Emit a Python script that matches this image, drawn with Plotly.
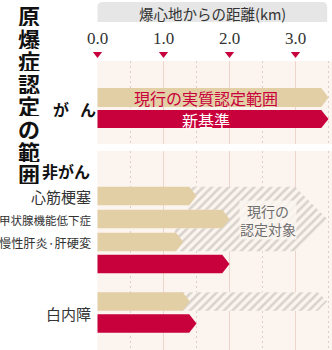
import plotly.graph_objects as go

# ---------------- data ----------------
title_chars = list("原爆症認定の範囲")
axis_title = "爆心地からの距離(km)"
tick_vals = [0.0, 1.0, 2.0, 3.0]
tick_labels = ["0.0", "1.0", "2.0", "3.0"]

cancer_current = 3.5      # 現行の実質認定範囲
cancer_new = 3.5          # 新基準

noncancer_cats = ["心筋梗塞", "甲状腺機能低下症", "慢性肝炎·肝硬変"]
noncancer_current = [1.5, 2.0, 1.3]
noncancer_new = 2.0       # shared 新基準 bar for the three diseases
noncancer_target = 3.48   # 現行の認定対象 (hatched)

cataract_cat = "白内障"
cataract_current = 1.4
cataract_new = 1.5
cataract_target = 3.48

# ---------------- layout constants ----------------
W, H = 332, 350
X0PX, PXKM = 97.5, 66.0
XMIN, XMAX = -X0PX / PXKM, (W - X0PX) / PXKM
TIP = 0.11

BEIGE = "#e3cfa6"
RED = "#c8003c"
PEACH = "#fcf4ee"
JP = "Noto Sans CJK JP"

fig = go.Figure()
shapes = []
ann = []

def px(xp):
    return xp / W

# background panels
for (y0, y1) in [(61, 144), (151, 350)]:
    shapes.append(dict(type="rect", xref="x", yref="y", x0=0, x1=XMAX, y0=y0, y1=y1,
                       fillcolor=PEACH, line=dict(width=0), layer="below"))
    for g in [1, 2, 3]:
        shapes.append(dict(type="line", xref="x", yref="y", x0=g, x1=g, y0=y0, y1=y1,
                           line=dict(color="#ead6cc", width=1), layer="below"))
    for g in [0.5, 1.5, 2.5, 3.5]:
        shapes.append(dict(type="line", xref="x", yref="y", x0=g, x1=g, y0=y0, y1=y1,
                           line=dict(color="#dccfc8", width=1, dash="2px,3px"), layer="below"))

# header rounded rect
hx0, hx1, hy0, hy1 = 0.0, 3.48, 2, 22
rx, ry = 5 / PXKM, 5
path = (f"M {hx0+rx},{hy0} L {hx1-rx},{hy0} Q {hx1},{hy0} {hx1},{hy0+ry} "
        f"L {hx1},{hy1} L {hx0},{hy1} L {hx0},{hy0+ry} Q {hx0},{hy0} {hx0+rx},{hy0} Z")
shapes.append(dict(type="path", xref="x", yref="y", path=path,
                   fillcolor="#e6e6e6", line=dict(width=0), layer="below"))
ann.append(dict(xref="x", yref="y", x=(hx0 + hx1) / 2, y=12.5, text=axis_title,
                showarrow=False, height=20,
                font=dict(family=JP, size=14.5, color="#333")))

# ticks
for v, lab in zip(tick_vals, tick_labels):
    ann.append(dict(xref="x", yref="y", x=v, y=38, text=lab, showarrow=False,
                    font=dict(family="Liberation Serif, DejaVu Serif, serif", size=17, color="#333")))
fig.add_trace(go.Scatter(x=tick_vals, y=[54] * len(tick_vals), mode="markers",
                         marker=dict(symbol="triangle-down", size=8, color=RED),
                         hoverinfo="skip", showlegend=False))

def arrow(tip, yc, h, color):
    t, b = yc - h / 2, yc + h / 2
    xs = [0, tip - TIP, tip, tip - TIP, 0, 0]
    ys = [t, t, yc, b, b, t]
    fig.add_trace(go.Scatter(x=xs, y=ys, mode="lines", fill="toself", fillcolor=color,
                             line=dict(width=0), hoverinfo="skip", showlegend=False))

def hatch(xs, ys):
    fig.add_trace(go.Scatter(x=xs, y=ys, mode="lines", fill="toself", fillcolor=PEACH,
                             fillpattern=dict(shape="/", fgcolor="#b3afab", bgcolor=PEACH,
                                              size=6, solidity=0.42),
                             line=dict(width=0), hoverinfo="skip", showlegend=False))

BH = 18.5
# ----- cancer rows
arrow(cancer_current, 97.5, 19, BEIGE)
arrow(cancer_new, 119, 18, RED)
ann.append(dict(xref="x", yref="y", x=1.65, y=97.5, text="現行の実質認定範囲", showarrow=False,
                height=19, font=dict(family=JP, size=16, color=RED)))
ann.append(dict(xref="x", yref="y", x=1.65, y=119.5, text="新基準", showarrow=False,
                height=18, font=dict(family=JP, size=16, color="white")))

# ----- non-cancer rows
rows_c = [196, 219, 242]
tops = [c - BH / 2 for c in rows_c]
bots = [c + BH / 2 for c in rows_c]
# hatch polygon (current recognised target)
lx, ly = [], []
for i in range(3):
    e = noncancer_current[i] - TIP - 0.02
    lx += [e, e]
    ly += [tops[i], bots[i]]
    if i < 2:
        m = min(noncancer_current[i], noncancer_current[i + 1]) - TIP - 0.02
        lx += [m, m]
        ly += [bots[i], tops[i + 1]]
ytop, ybot = tops[0], bots[-1]
ymid = (ytop + ybot) / 2
half = (ybot - ytop) / 2 / PXKM
hx = lx + [noncancer_target - half, noncancer_target, noncancer_target - half, lx[0]]
hy = ly + [ybot, ymid, ytop, ly[0]]
hatch(hx, hy)
ann.append(dict(xref="x", yref="y", x=2.58, y=220, text="現行の<br>認定対象", showarrow=False,
                bgcolor="rgba(252,246,241,0.85)", borderpad=0,
                font=dict(family=JP, size=14, color="#6e6e6e")))

for i in range(3):
    arrow(noncancer_current[i], rows_c[i], BH, BEIGE)
arrow(noncancer_new, 264, BH, RED)

# ----- cataract
cy_cur, cy_new = 301.5, 323.5
ht, hb = cy_cur - BH / 2, cy_cur + BH / 2
h2 = BH / 2 / PXKM
hatch([cataract_current - TIP - 0.02, cataract_target - h2, cataract_target, cataract_target - h2,
       cataract_current - TIP - 0.02, cataract_current - TIP - 0.02],
      [ht, ht, cy_cur, hb, hb, ht])
arrow(cataract_current, cy_cur, BH, BEIGE)
arrow(cataract_new, cy_new, BH, RED)

# ----- left texts
for i, ch in enumerate(title_chars):
    ann.append(dict(xref="paper", yref="y", x=px(14.5), y=15 + 22.6 * i, text=ch, showarrow=False,
                    width=24, height=22,
                    font=dict(family=JP, size=22, color="#111", weight="bold")))
ann.append(dict(xref="paper", yref="y", x=px(51), y=109, text="が", showarrow=False, height=20,
                font=dict(family=JP, size=16, color="#111", weight="bold")))
ann.append(dict(xref="paper", yref="y", x=px(78), y=109, text="ん", showarrow=False, height=20,
                font=dict(family=JP, size=16, color="#111", weight="bold")))
ann.append(dict(xref="paper", yref="y", x=px(92), xanchor="right", y=171, text="非がん",
                showarrow=False, height=20,
                font=dict(family=JP, size=16, color="#111", weight="bold")))
label_sizes = [15, 11.5, 12.2]
for cat, yc, fs in zip(noncancer_cats, rows_c, label_sizes):
    ann.append(dict(xref="paper", yref="y", x=px(93), xanchor="right", y=yc, text=cat,
                    showarrow=False, height=19, font=dict(family=JP, size=fs, color="#333")))
ann.append(dict(xref="paper", yref="y", x=px(93), xanchor="right", y=313, text=cataract_cat,
                showarrow=False, height=19, font=dict(family=JP, size=15, color="#333")))

fig.update_layout(
    width=W, height=H, margin=dict(l=0, r=0, t=0, b=0),
    paper_bgcolor="white", plot_bgcolor="white",
    xaxis=dict(range=[XMIN, XMAX], visible=False, fixedrange=True),
    yaxis=dict(range=[H, 0], visible=False, fixedrange=True),
    shapes=shapes, annotations=ann, showlegend=False,
)
fig.write_html("out.html")
